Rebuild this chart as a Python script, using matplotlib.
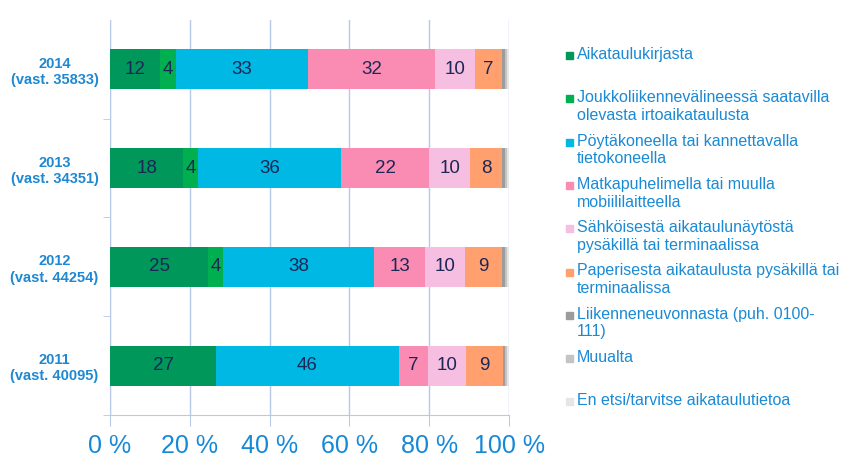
import numpy as np
import matplotlib
matplotlib.use("Agg")
import matplotlib.pyplot as plt
from matplotlib.patches import Rectangle

plt.rcParams['font.family'] = ['Liberation Sans', 'DejaVu Sans']

years = ["2014\n(vast. 35833)", "2013\n(vast. 34351)",
         "2012\n(vast. 44254)", "2011\n(vast. 40095)"]

series = ["Aikataulukirjasta",
          "Joukkoliikennevälineessä saatavilla\nolevasta irtoaikataulusta",
          "Pöytäkoneella tai kannettavalla\ntietokoneella",
          "Matkapuhelimella tai muulla\nmobiililaitteella",
          "Sähköisestä aikataulunäytöstä\npysäkillä tai terminaalissa",
          "Paperisesta aikataulusta pysäkillä tai\nterminaalissa",
          "Liikenneneuvonnasta (puh. 0100-\n111)",
          "Muualta",
          "En etsi/tarvitse aikataulutietoa"]

# percentages per series, order: 2014, 2013, 2012, 2011
aikataulukirja = [12.4, 18.4, 24.6, 26.6]
irtoaikataulu = [4.1, 3.6, 3.8, 0.0]
tietokone = [33.0, 36.0, 37.8, 45.7]
mobiili = [32.0, 22.0, 12.8, 7.4]
naytto = [10.0, 10.2, 10.0, 9.6]
paperi = [6.8, 8.0, 9.2, 9.1]
neuvonta = [0.6, 0.7, 0.7, 0.6]
muualta = [0.6, 0.6, 0.6, 0.5]
ei_etsi = [0.5, 0.5, 0.5, 0.5]

values = [aikataulukirja, irtoaikataulu, tietokone, mobiili, naytto,
          paperi, neuvonta, muualta, ei_etsi]
colors = ["#00975B", "#00B050", "#00B8E4", "#FA8CB4", "#F6BEE0",
          "#FFA06E", "#9C9C9C", "#C4C4C4", "#E6E6E6"]

fig = plt.figure(figsize=(8.57, 4.71), dpi=100)
ax = fig.add_axes([0.1284, 0.119, 0.4656, 0.8386])

y = np.arange(len(years))
left = np.zeros(len(years))
for vals, col in zip(values, colors):
    vals = np.array(vals)
    ax.barh(y, vals, left=left, height=0.405, color=col, zorder=3)
    for yi, l, v in zip(y, left, vals):
        if v >= 3:
            ax.text(l + v / 2, yi, "%d" % round(v), ha='center', va='center',
                    fontsize=13.5, color="#1B2756", zorder=4)
    left += vals

gridc = "#B7C9E6"
ax.set_xlim(0, 100)
ax.set_ylim(3.5, -0.5)
ax.set_xticks(np.arange(0, 101, 20))
ax.set_xticklabels(["%d %%" % v for v in range(0, 101, 20)])
ax.set_yticks(y)
ax.set_yticklabels(years, ha='center', fontweight='bold')
ax.set_yticks([0.5, 1.5, 2.5, 3.5], minor=True)
ax.tick_params(axis='x', colors=gridc, labelcolor="#1589D6", labelsize=18,
               length=8, pad=6)
ax.tick_params(axis='y', which='major', length=0, labelcolor="#1E88D2",
               labelsize=10.5, pad=40)
ax.tick_params(axis='y', which='minor', length=5, color=gridc)
ax.grid(axis='x', color=gridc, linewidth=1, zorder=0)
for s in ['top', 'right']:
    ax.spines[s].set_visible(False)
for s in ['left', 'bottom']:
    ax.spines[s].set_color(gridc)

# legend drawn as a column of slots
x0, y0, step = 566, 48, 43.3
W, H = 857.0, 471.0
for i, (name, col) in enumerate(zip(series, colors)):
    ytop = y0 + i * step
    fig.add_artist(Rectangle((x0 / W, 1 - (ytop + 11) / H), 7 / W, 7 / H,
                             color=col, transform=fig.transFigure))
    fig.text((x0 + 11) / W, 1 - (ytop - 1) / H, name, ha='left', va='top',
             fontsize=11.5, color="#1A8AD4", linespacing=1.22)

fig.savefig("out.png", dpi=100)
